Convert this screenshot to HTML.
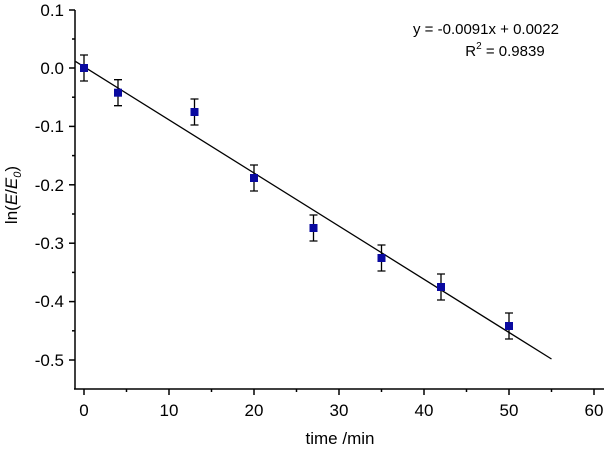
<!DOCTYPE html><html><head><style>body{margin:0;background:#fff}svg{display:block;font-family:"Liberation Sans",sans-serif}</style></head><body>
<svg width="606" height="451" viewBox="0 0 606 451">
<g stroke="#000" stroke-width="1.5" fill="none">
<line x1="75" y1="10" x2="75" y2="389"/><line x1="74" y1="389" x2="604" y2="389"/>
<line x1="69" y1="10" x2="75" y2="10"/><line x1="69" y1="68" x2="75" y2="68"/><line x1="69" y1="126.4" x2="75" y2="126.4"/><line x1="69" y1="184.8" x2="75" y2="184.8"/><line x1="69" y1="243.2" x2="75" y2="243.2"/><line x1="69" y1="301.6" x2="75" y2="301.6"/><line x1="69" y1="360" x2="75" y2="360"/>
<line x1="72" y1="39" x2="75" y2="39"/><line x1="72" y1="97.2" x2="75" y2="97.2"/><line x1="72" y1="155.6" x2="75" y2="155.6"/><line x1="72" y1="214" x2="75" y2="214"/><line x1="72" y1="272.4" x2="75" y2="272.4"/><line x1="72" y1="330.8" x2="75" y2="330.8"/>
<line x1="84" y1="389" x2="84" y2="395"/><line x1="169" y1="389" x2="169" y2="395"/><line x1="254" y1="389" x2="254" y2="395"/><line x1="339" y1="389" x2="339" y2="395"/><line x1="424" y1="389" x2="424" y2="395"/><line x1="509" y1="389" x2="509" y2="395"/><line x1="594" y1="389" x2="594" y2="395"/>
<line x1="126.5" y1="389" x2="126.5" y2="392"/><line x1="211.5" y1="389" x2="211.5" y2="392"/><line x1="296.5" y1="389" x2="296.5" y2="392"/><line x1="381.5" y1="389" x2="381.5" y2="392"/><line x1="466.5" y1="389" x2="466.5" y2="392"/><line x1="551.5" y1="389" x2="551.5" y2="392"/>
</g>
<line x1="75.5" y1="61.4" x2="551.5" y2="359" stroke="#000" stroke-width="1.3"/>
<g font-size="17" fill="#000" text-anchor="end">
<text x="64" y="16">0.1</text><text x="64" y="74">0.0</text><text x="64" y="132">-0.1</text><text x="64" y="191">-0.2</text><text x="64" y="249">-0.3</text><text x="64" y="307">-0.4</text><text x="64" y="366">-0.5</text>
</g>
<g font-size="17" fill="#000" text-anchor="middle">
<text x="84" y="416">0</text><text x="169" y="416">10</text><text x="254" y="416">20</text><text x="339" y="416">30</text><text x="424" y="416">40</text><text x="509" y="416">50</text><text x="594" y="416">60</text>
<text x="340" y="444">time /min</text>
</g>
<g font-size="15" fill="#000" text-anchor="middle">
<text x="486" y="34">y = -0.0091x + 0.0022</text>
<text x="505" y="56">R<tspan dy="-7" font-size="10">2</tspan><tspan dy="7"> = 0.9839</tspan></text>
</g>
<text transform="translate(17,195) rotate(-90)" font-size="17" text-anchor="middle">ln(<tspan font-style="italic">E</tspan>/<tspan font-style="italic">E</tspan><tspan font-size="11" dy="4" font-style="italic">0</tspan><tspan dy="-4">)</tspan></text>
<g stroke="#000" stroke-width="1.3">
<path d="M84 55V81M80 55h8M80 81h8 M118 79.7V105.7M114 79.7h8M114 105.7h8 M194.5 99V125M190.5 99h8M190.5 125h8 M254 165V191M250 165h8M250 191h8 M313.5 215V241M309.5 215h8M309.5 241h8 M381.5 245V271M377.5 245h8M377.5 271h8 M441 274V300M437 274h8M437 300h8 M509 313V339M505 313h8M505 339h8"/>
</g>
<g fill="#0a0aa0">
<rect x="80" y="64" width="8" height="8"/><rect x="114" y="88.7" width="8" height="8"/><rect x="190.5" y="108" width="8" height="8"/><rect x="250" y="174" width="8" height="8"/><rect x="309.5" y="224" width="8" height="8"/><rect x="377.5" y="254" width="8" height="8"/><rect x="437" y="283" width="8" height="8"/><rect x="505" y="322" width="8" height="8"/>
</g>
</svg></body></html>
